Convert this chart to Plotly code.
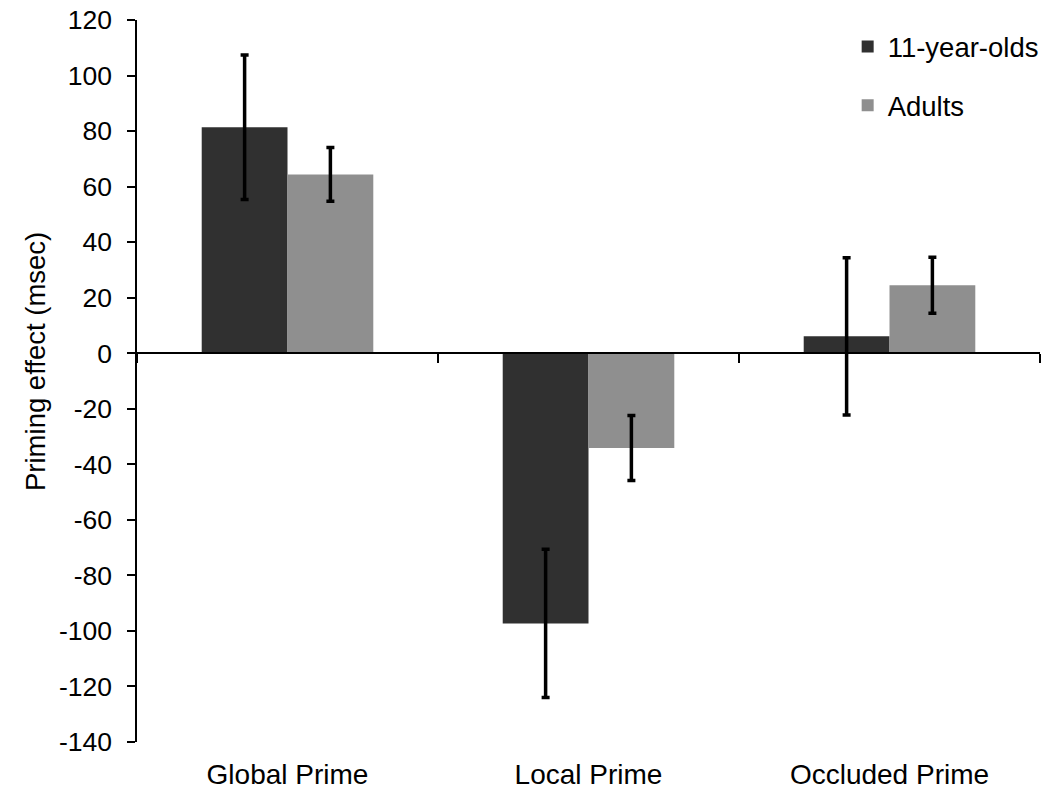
import plotly.graph_objects as go

categories = ["Global Prime", "Local Prime", "Occluded Prime"]
kids_values = [81.4, -97.3, 6.1]
kids_errors = [26.0, 26.7, 28.3]
adult_values = [64.4, -34.1, 24.5]
adult_errors = [9.7, 11.7, 10.1]
y_ticks = list(range(-140, 121, 20))
y_tick_labels = [str(v) for v in y_ticks]
y_title = "Priming effect (msec)"

FONT = "Liberation Sans, Arial, sans-serif"

fig = go.Figure()
fig.add_trace(go.Bar(
    x=categories, y=kids_values, name="11-year-olds",
    marker=dict(color="#303030", line=dict(width=0)),
    error_y=dict(type="data", array=kids_errors, color="black", thickness=3.5, width=4),
    legendgroup="a",
))
fig.add_trace(go.Bar(
    x=categories, y=adult_values, name="Adults",
    marker=dict(color="#8f8f8f", line=dict(width=0)),
    error_y=dict(type="data", array=adult_errors, color="black", thickness=3.5, width=4),
    legendgroup="b",
))
# helper invisible trace for the axis drawn through zero
fig.add_trace(go.Scatter(x=[-0.5, 2.5], y=[0, 0], xaxis="x2", mode="lines",
                         line=dict(width=0), showlegend=False, hoverinfo="skip"))

fig.update_layout(
    width=1050, height=804,
    margin=dict(l=137, r=10, t=20, b=62, autoexpand=False),
    paper_bgcolor="white", plot_bgcolor="white",
    font=dict(family=FONT, size=27, color="black"),
    barmode="group", bargap=0.43, bargroupgap=0,
    showlegend=True,
    legend=dict(x=0.787, y=0.997, xanchor="left", yanchor="top",
                traceorder="grouped", tracegroupgap=20,
                font=dict(size=27.5), itemwidth=30, bgcolor="rgba(0,0,0,0)"),
    xaxis=dict(showline=False, ticks="", showgrid=False, zeroline=False,
               tickfont=dict(size=28), ticklabelstandoff=13, automargin=False),
    xaxis2=dict(overlaying="x", anchor="free", position=140/260, range=[-0.5, 2.5],
                showline=True, linecolor="black", linewidth=1.5,
                ticks="outside", ticklen=9, tickwidth=1.5, tickcolor="black",
                tickvals=[-0.5, 0.5, 1.5, 2.5], showticklabels=False,
                showgrid=False, zeroline=False),
    yaxis=dict(range=[-140, 120], tickvals=y_ticks, ticktext=y_tick_labels,
               showgrid=False, automargin=False,
               zeroline=False, showline=True, linecolor="black", linewidth=1.5,
               ticks="outside", ticklen=8, tickwidth=1.5, tickcolor="black",
               tickfont=dict(size=26.5), ticklabelstandoff=10),
    annotations=[dict(text=y_title, textangle=-90, xref="paper", yref="paper",
                      x=(35 - 137) / 903, y=(742 - 362) / 722,
                      xanchor="center", yanchor="middle", showarrow=False,
                      font=dict(size=27.5))],
)

fig.write_html("out.html")
